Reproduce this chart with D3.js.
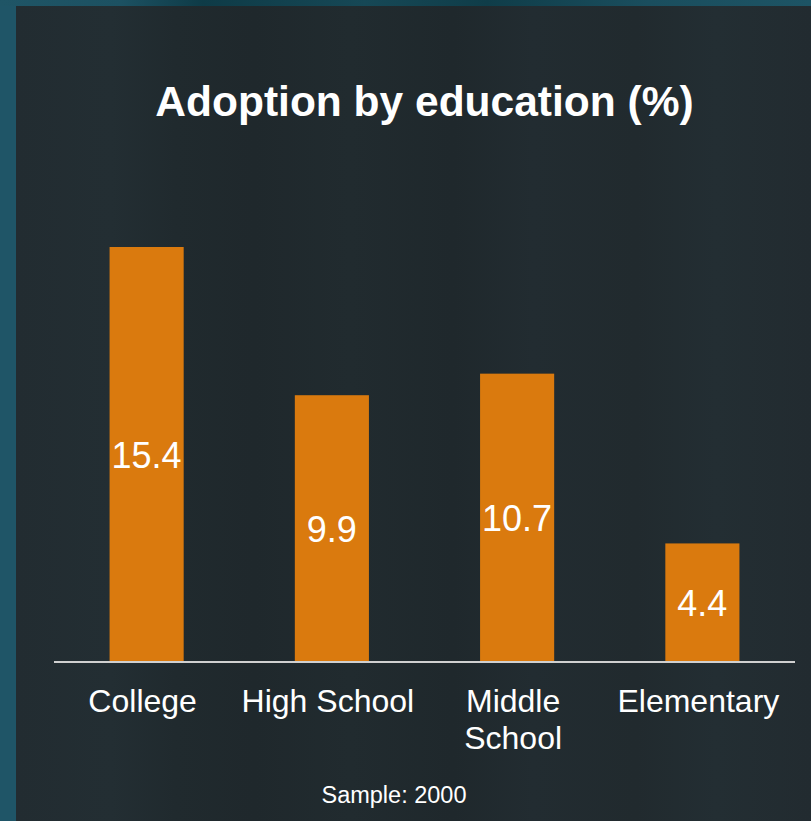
<!DOCTYPE html>
<html>
<head>
<meta charset="utf-8">
<script src="https://cdn.jsdelivr.net/npm/d3@7/dist/d3.min.js"></script>
<style>
  html, body { margin: 0; padding: 0; background: #1f5567; }
  svg { display: block; }
  text { font-family: "Liberation Sans", Arial, sans-serif; fill: #ffffff; }
</style>
</head>
<body>
<svg id="chart" width="811" height="821"></svg>
<script>
// Adoption rate by education level, in percent
const categories = ["College", "High School", "Middle School", "Elementary"];
const adoption = [15.4, 9.9, 10.7, 4.4];
const titleText = "Adoption by education (%)";
const footnote = "Sample: 2000";

const W = 811, H = 821;
const svg = d3.select("#chart");

// Backdrop: teal frame with a dark, faintly streaked panel
const defs = svg.append("defs");
const grad = defs.append("linearGradient").attr("id", "panelGrad")
  .attr("x1", "0%").attr("x2", "100%").attr("y1", "0%").attr("y2", "0%");
[
  [0, "#222c31"], [0.12, "#232e33"], [0.2, "#202a2e"], [0.3, "#1f282c"],
  [0.42, "#212b2f"], [0.55, "#1f282c"], [0.65, "#222c31"], [0.78, "#212a2e"],
  [0.88, "#232e33"], [1, "#222b30"]
].forEach(([o, c]) => grad.append("stop").attr("offset", o).attr("stop-color", c));

const topGrad = defs.append("linearGradient").attr("id", "topGrad")
  .attr("x1", "0%").attr("x2", "100%");
[[0, "#1f5566"], [0.15, "#1c5162"], [0.25, "#0e3b47"], [0.45, "#164856"],
 [0.6, "#0f3d49"], [0.8, "#1a4e5e"], [1, "#1d5465"]]
  .forEach(([o, c]) => topGrad.append("stop").attr("offset", o).attr("stop-color", c));

svg.append("rect").attr("width", W).attr("height", H).attr("fill", "#1f5567");
svg.append("rect").attr("width", W).attr("height", 6).attr("fill", "url(#topGrad)");
svg.append("rect").attr("x", 16).attr("y", 6).attr("width", W - 16).attr("height", H - 6)
  .attr("fill", "url(#panelGrad)");

// Plot geometry
const plotLeft = 54, plotRight = 795, baseY = 662, topY = 247;

const x = d3.scaleBand()
  .domain(categories)
  .range([plotLeft, plotRight])
  .paddingInner(0.6)
  .paddingOuter(0.3);

const y = d3.scaleLinear()
  .domain([0, d3.max(adoption)])
  .range([baseY, topY]);

const data = categories.map((c, i) => ({ cat: c, val: adoption[i] }));

// Title
svg.append("text")
  .attr("x", (plotLeft + plotRight) / 2)
  .attr("y", 116)
  .attr("text-anchor", "middle")
  .style("font-weight", "bold")
  .style("font-size", "42.5px")
  .text(titleText);

// Bars
svg.append("g").selectAll("rect")
  .data(data)
  .join("rect")
  .attr("x", d => x(d.cat))
  .attr("y", d => y(d.val))
  .attr("width", x.bandwidth())
  .attr("height", d => baseY - y(d.val))
  .attr("fill", "#da7a0e");

// Value labels, centred within each bar
svg.append("g").selectAll("text")
  .data(data)
  .join("text")
  .attr("x", d => x(d.cat) + x.bandwidth() / 2)
  .attr("y", d => (y(d.val) + baseY) / 2 + 13)
  .attr("text-anchor", "middle")
  .style("font-size", "36px")
  .text(d => d.val);

// Baseline axis
svg.append("line")
  .attr("x1", plotLeft).attr("x2", plotRight)
  .attr("y1", baseY).attr("y2", baseY)
  .attr("stroke", "#d0d0d0")
  .attr("stroke-width", 2);

// Category labels; the two-word middle label wraps onto two lines
const labelX = d => x(d.cat) + x.bandwidth() / 2 - 4;
const catLabels = svg.append("g").selectAll("text")
  .data(data)
  .join("text")
  .attr("x", labelX)
  .attr("y", 712)
  .attr("text-anchor", "middle")
  .style("font-size", "32px");

catLabels.each(function(d) {
  const t = d3.select(this);
  const lines = (d.cat === "Middle School") ? d.cat.split(" ") : [d.cat];
  lines.forEach((ln, i) => {
    t.append("tspan")
      .attr("x", labelX(d))
      .attr("dy", i === 0 ? 0 : 37)
      .text(ln);
  });
});

// Footnote
svg.append("text")
  .attr("x", 394)
  .attr("y", 803)
  .attr("text-anchor", "middle")
  .style("font-size", "23.5px")
  .text(footnote);
</script>
</body>
</html>
